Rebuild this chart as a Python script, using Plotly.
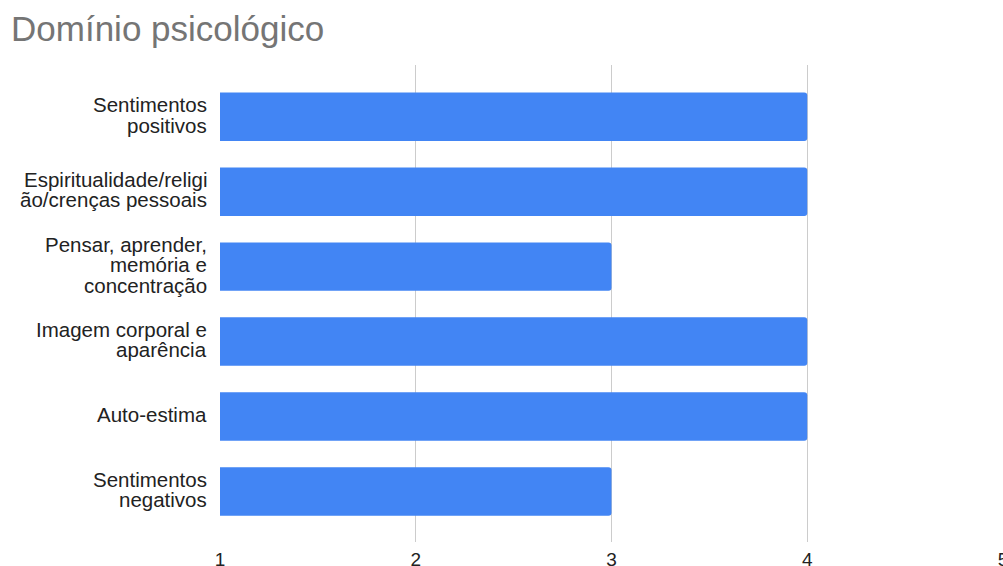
import plotly.graph_objects as go

categories = [
    "Sentimentos<br>positivos",
    "Espiritualidade/religi<br>ão/crenças pessoais",
    "Pensar, aprender,<br>memória e<br>concentração",
    "Imagem corporal e<br>aparência",
    "Auto-estima",
    "Sentimentos<br>negativos",
]
values = [4, 4, 3, 4, 4, 3]
x_ticks = [1, 2, 3, 4, 5]
title_text = "Domínio psicológico"

FONT = "Liberation Sans, Arial, sans-serif"
LABEL_SIZE = 20.5
LINE_STEP = 20.6

fig = go.Figure(
    go.Bar(
        x=values,
        y=categories,
        orientation="h",
        marker=dict(color="#4285F4", line=dict(width=0)),
        width=0.647,
        hoverinfo="x+y",
    )
)

# category labels drawn as annotations so that line spacing can match (tight)
annotations = []
for cat in categories:
    lines = cat.split("<br>")
    n = len(lines)
    for i, line in enumerate(lines):
        annotations.append(
            dict(
                x=0,
                xref="paper",
                y=cat,
                yref="y",
                text=line,
                showarrow=False,
                xanchor="right",
                yanchor="middle",
                xshift=-11,
                yshift=-(i - (n - 1) / 2) * LINE_STEP + 2,
                font=dict(family=FONT, size=LABEL_SIZE, color="#222222"),
                align="right",
            )
        )

fig.update_layout(
    width=1003,
    height=566,
    margin=dict(l=220, r=0, t=65, b=24, autoexpand=False),
    paper_bgcolor="white",
    plot_bgcolor="white",
    barcornerradius=3,
    showlegend=False,
    font=dict(family=FONT, color="#222222", size=16),
    title=dict(
        text=title_text,
        x=0.011,
        xanchor="left",
        xref="container",
        y=1 - 29 / 566,
        yref="container",
        yanchor="middle",
        font=dict(family=FONT, size=35, color="#757575"),
    ),
    annotations=annotations,
    xaxis=dict(
        range=[1, 5],
        tickvals=x_ticks,
        showgrid=True,
        gridcolor="#cccccc",
        gridwidth=1,
        zeroline=False,
        showline=False,
        ticks="",
        automargin=False,
        ticklabeloverflow="allow",
        ticklabelstandoff=4,
        tickfont=dict(family=FONT, size=19, color="#222222"),
    ),
    yaxis=dict(
        type="category",
        range=[5.674, -0.69],
        showgrid=False,
        zeroline=False,
        showline=False,
        ticks="",
        automargin=False,
        showticklabels=False,
    ),
)

fig.write_html("out.html")
